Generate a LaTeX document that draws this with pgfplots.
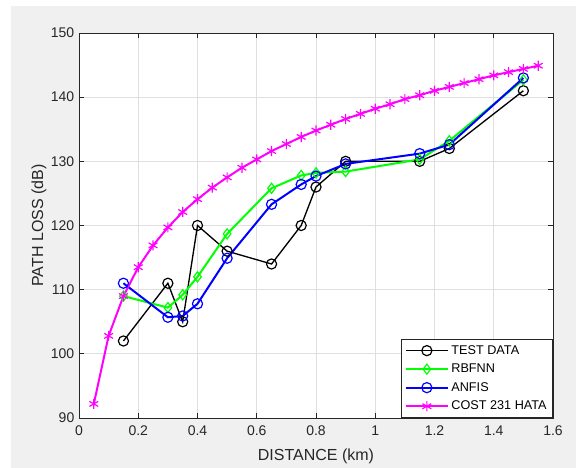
\documentclass[border=0pt]{standalone}
\usepackage{pgfplots}
\pgfplotsset{compat=1.18}
\usepackage{fontspec}
\setmainfont{Liberation Sans}
\definecolor{figgray}{RGB}{240,240,240}
\definecolor{axgray}{RGB}{38,38,38}
\definecolor{gridgray}{RGB}{223,223,223}
\definecolor{mgreen}{RGB}{0,255,0}
\definecolor{mblue}{RGB}{0,0,255}
\definecolor{mmag}{RGB}{255,0,255}
\begin{document}
\begin{tikzpicture}
% figure background (1px = 0.75pt)
\fill[white] (-59.25pt,-37.5pt) rectangle (372.75pt,313.5pt);
\fill[figgray] (-51pt,-37.5pt) rectangle (372.75pt,309pt);
\begin{axis}[
    scale only axis,
    width=355.5pt, height=288.75pt,
    xmin=0, xmax=1.6, ymin=90, ymax=150,
    xtick={0,0.2,...,1.6}, ytick={90,100,...,150},
    xticklabels={0,0.2,0.4,0.6,0.8,1,1.2,1.4,1.6},
    grid=major,
    major grid style={gridgray, line width=0.5pt},
    axis line style={axgray, line width=0.5pt},
    axis background/.style={fill=white},
    tick align=inside,
    tick style={axgray, line width=0.5pt},
    major tick length=3.5pt,
    ticklabel style={font=\fontsize{10.5}{12}\selectfont, text=axgray},
    xticklabel style={yshift=-2.5pt},
    /pgf/number format/assume math mode=true,
    xlabel={DISTANCE (km)}, ylabel={PATH LOSS (dB)},
    label style={font=\fontsize{12}{14}\selectfont, text=axgray},
    xlabel style={yshift=-3pt},
    ylabel style={yshift=-3.5pt},
    legend style={at={(1,0)}, anchor=south east, draw=axgray, line width=0.5pt,
        font=\fontsize{9.5}{10}\selectfont, row sep=1.8pt, inner sep=2.5pt,
        cells={anchor=west}},
    legend image code/.code={
        \draw[mark repeat=2,mark phase=2,#1] plot coordinates {(0cm,0cm) (0.55cm,0cm) (1.1cm,0cm)};},
    mark size=3.8pt,
]
\addplot[black, line width=1pt, mark=o, mark options={line width=0.9pt}] coordinates {
(0.15,102) (0.3,111) (0.35,105) (0.4,120) (0.5,116) (0.65,114)
(0.75,120) (0.8,126) (0.9,130) (1.15,130) (1.25,132) (1.5,141)
};
\addlegendentry{TEST DATA}
\addplot[mgreen, line width=1.5pt, mark=diamond, mark options={line width=0.9pt}] coordinates {
(0.15,109) (0.3,107.2) (0.35,109.2) (0.4,112) (0.5,118.7) (0.65,125.8)
(0.75,127.8) (0.8,128.2) (0.9,128.4) (1.15,130.3) (1.25,133.2) (1.5,142.7)
};
\addlegendentry{RBFNN}
\addplot[mblue, line width=1.5pt, mark=o, mark options={line width=0.9pt}] coordinates {
(0.15,111) (0.3,105.7) (0.35,105.9) (0.4,107.8) (0.5,114.9) (0.65,123.3)
(0.75,126.4) (0.8,127.7) (0.9,129.6) (1.15,131.2) (1.25,132.6) (1.5,143)
};
\addlegendentry{ANFIS}
\addplot[mmag, line width=1.5pt, mark=asterisk, mark options={line width=0.9pt}] coordinates {
(0.05,92.2) (0.1,102.8) (0.15,109.0) (0.2,113.5) (0.25,116.9) (0.3,119.7)
(0.35,122.1) (0.4,124.1) (0.45,125.9) (0.5,127.5) (0.55,129.0) (0.6,130.3)
(0.65,131.6) (0.7,132.7) (0.75,133.8) (0.8,134.8) (0.85,135.7) (0.9,136.6)
(0.95,137.4) (1.0,138.2) (1.05,138.9) (1.1,139.7) (1.15,140.3) (1.2,141.0)
(1.25,141.6) (1.3,142.2) (1.35,142.8) (1.4,143.4) (1.45,143.9) (1.5,144.4)
(1.55,144.9)
};
\addlegendentry{COST 231 HATA}
\end{axis}
\pgfresetboundingbox
\path[use as bounding box] (-59.25pt,-37.5pt) rectangle (372.75pt,313.5pt);
\end{tikzpicture}
\end{document}
